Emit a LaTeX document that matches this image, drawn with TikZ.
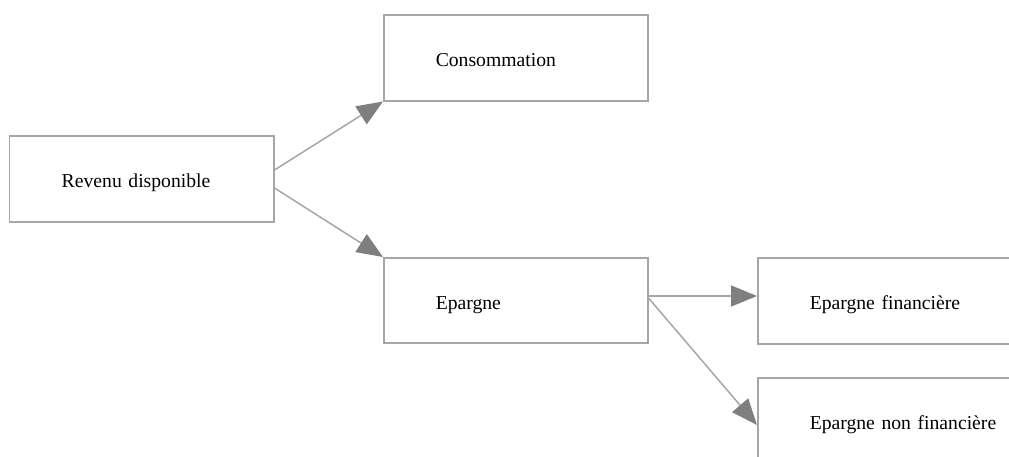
\documentclass[tikz,border=0pt]{standalone}
\usepackage{fontspec}
\setmainfont{Liberation Serif}
\usetikzlibrary{arrows.meta}
\definecolor{cadre}{HTML}{A6A6A6}
\definecolor{pointe}{HTML}{7F7F7F}
\tikzset{
  bloc/.style={draw=cadre, line width=0.03cm, rectangle, anchor=north west,
    minimum width=#1*0.02cm, minimum height=86*0.02cm, inner xsep=52*0.02cm,
    text width=#1*0.02cm-104*0.02cm, align=left,
    text height=0.43cm, text depth=0.08cm,
    font=\fontsize{11.2}{13}\selectfont},
  fleche/.style={draw=cadre, line width=0.03cm,
    -{Triangle[length=0.52cm, width=0.42cm, color=pointe]}}
}
\begin{document}
\begin{tikzpicture}[x=0.02cm, y=-0.02cm]
\useasboundingbox (0,0) rectangle (1009,457);

% les blocs
\node[bloc=264] (revenu) at (9,135) {Revenu disponible};
\node[bloc=264] (conso) at (383,14) {Consommation};
\node[bloc=264, minimum height=85*0.02cm] (epargne) at (383,257) {Epargne};
\node[bloc=300] (epfin) at (757,257) {Epargne financière};
\node[bloc=300] (epnonfin) at (757,377) {Epargne non financière};

% les fleches
\draw[fleche] ([yshift=-35*0.02cm]revenu.north east) -- (conso.south west);
\draw[fleche] ([yshift=-53*0.02cm]revenu.north east) -- (epargne.north west);
\draw[fleche] ([yshift=-39*0.02cm]epargne.north east) -- ([yshift=-39*0.02cm]epfin.north west);
\draw[fleche] ([yshift=-41*0.02cm]epargne.north east) -- ([yshift=-48*0.02cm]epnonfin.north west);

\end{tikzpicture}
\end{document}
